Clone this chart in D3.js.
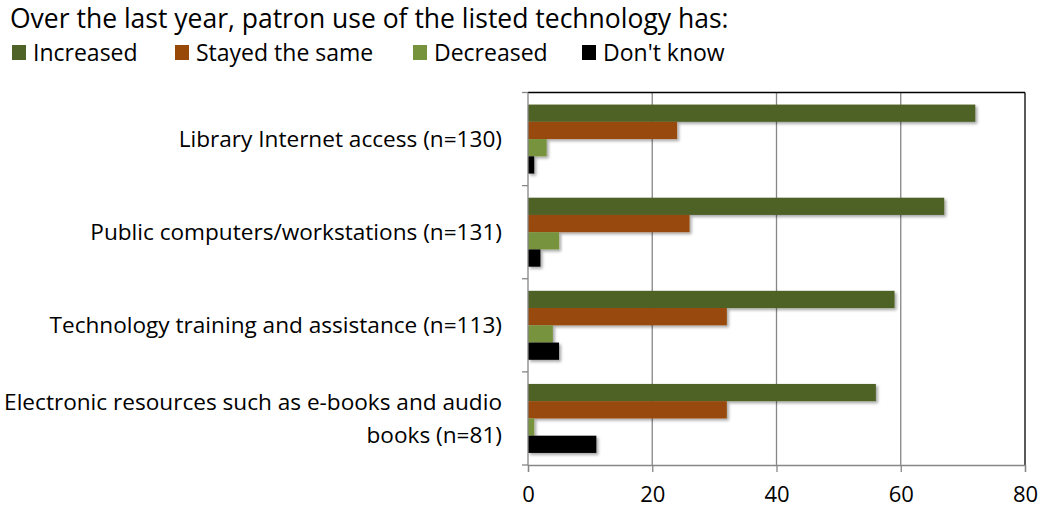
<!DOCTYPE html>
<html><head><meta charset="utf-8">
<script src="https://cdn.jsdelivr.net/npm/d3@7"></script>
<style>body{margin:0;background:#fff}svg{display:block}text{font-family:"Open Sans",sans-serif;fill:#000}</style>
</head><body><svg id="c" width="1044" height="511"></svg>
<script>
const categories = ["Library Internet access (n=130)", "Public computers/workstations (n=131)", "Technology training and assistance (n=113)", "Electronic resources such as e-books and audio|books (n=81)"];
const seriesNames = ["Increased", "Stayed the same", "Decreased", "Don't know"];
const increased = [72, 67, 59, 56];
const stayed = [24, 26, 32, 32];
const decreased = [3, 5, 4, 1];
const dontKnow = [1, 2, 5, 11];
const xTicks = [0, 20, 40, 60, 80];
const colors = ["#4F6228", "#984807", "#77933C", "#000000"];
const series = [increased, stayed, decreased, dontKnow];

const svg = d3.select("#c");
const m = {l: 528, r: 1025, t: 92.5, b: 465};
const x = d3.scaleLinear().domain([0, 80]).range([m.l, m.r]);
const y = d3.scaleBand().domain(categories).range([m.t, m.b]);
const inner = d3.scaleBand().domain(seriesNames).range([0, y.bandwidth()]).paddingOuter(0.7).paddingInner(0);

const defs = svg.append("defs");
const f = defs.append("filter").attr("id", "sh").attr("x", "-5%").attr("y", "-30%").attr("width", "115%").attr("height", "190%");
f.append("feDropShadow").attr("dx", 2).attr("dy", 2).attr("stdDeviation", 1.8).attr("flood-color", "#000").attr("flood-opacity", 0.35);

// gridlines
svg.append("g").selectAll("line").data(xTicks.filter(d => d > 0 && d < 80)).join("line")
  .attr("x1", d => x(d)).attr("x2", d => x(d)).attr("y1", m.t).attr("y2", m.b)
  .attr("stroke", "#868686").attr("stroke-width", 1.3);
// top and right border
svg.append("line").attr("x1", m.l).attr("x2", m.r).attr("y1", m.t).attr("y2", m.t).attr("stroke", "#000").attr("stroke-width", 1.3);
svg.append("line").attr("x1", m.r).attr("x2", m.r).attr("y1", m.t).attr("y2", m.b).attr("stroke", "#000").attr("stroke-width", 1.3);

// bars
const g = svg.append("g");
seriesNames.forEach((s, si) => {
  g.append("g").attr("filter", "url(#sh)").selectAll("rect").data(categories).join("rect")
    .attr("x", x(0)).attr("y", c => y(c) + inner(s))
    .attr("width", (c, i) => x(series[si][i]) - x(0)).attr("height", inner.bandwidth())
    .attr("fill", colors[si]);
});

// x axis
const xa = svg.append("g").attr("transform", `translate(0,${m.b})`)
  .call(d3.axisBottom(x).tickValues(xTicks).tickSize(7).tickPadding(14));
xa.select(".domain").attr("stroke", "#868686").attr("stroke-width", 1.3);
xa.selectAll(".tick line").attr("stroke", "#868686").attr("stroke-width", 1.3);
xa.selectAll(".tick text").attr("font-size", 22).attr("font-family", "Open Sans, sans-serif").attr("fill", "#000");

// y axis
svg.append("line").attr("x1", m.l).attr("x2", m.l).attr("y1", m.t).attr("y2", m.b).attr("stroke", "#868686").attr("stroke-width", 1.3);
const edges = categories.map(c => y(c)).concat([m.b]);
svg.append("g").selectAll("line").data(edges).join("line")
  .attr("x1", m.l - 6).attr("x2", m.l).attr("y1", d => d).attr("y2", d => d)
  .attr("stroke", "#868686").attr("stroke-width", 1.3);

// category labels
svg.append("g").selectAll("text").data(categories).join("text")
  .attr("text-anchor", "end").attr("font-size", 22.6)
  .each(function(c) {
    const lines = c.split("|");
    const cy = y(c) + y.bandwidth() / 2;
    const t = d3.select(this);
    lines.forEach((ln, i) => {
      t.append("tspan").attr("x", 502).attr("y", cy + 8 + (i - (lines.length - 1) / 2) * 33).text(ln);
    });
  });

// title
svg.append("text").attr("x", 10).attr("y", 28).attr("font-size", 26.5).text("Over the last year, patron use of the listed technology has:");

// legend
const legX = [12, 175, 413, 582];
const lg = svg.append("g").selectAll("g").data(seriesNames).join("g")
  .attr("transform", (d, i) => `translate(${legX[i]},45)`);
lg.append("rect").attr("width", 14).attr("height", 15).attr("fill", (d, i) => colors[i]);
lg.append("text").attr("x", 21).attr("y", 16).attr("font-size", 23).text(d => d);
</script></body></html>
